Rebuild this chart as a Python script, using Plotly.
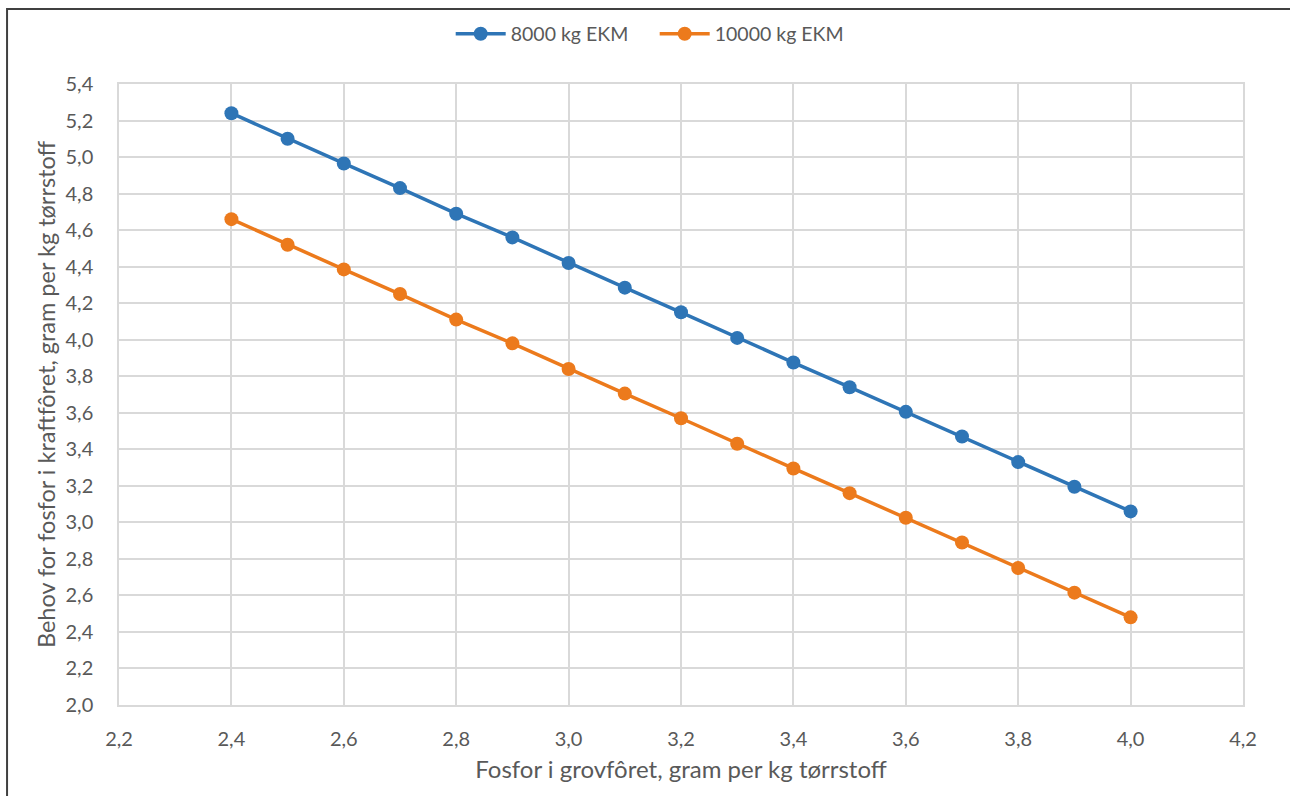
import plotly.graph_objects as go

# Phosphorus in roughage (g/kg DM) and phosphorus requirement in concentrate (g/kg DM)
fosfor_grovfor = [2.4, 2.5, 2.6, 2.7, 2.8, 2.9, 3.0, 3.1, 3.2, 3.3, 3.4, 3.5, 3.6, 3.7, 3.8, 3.9, 4.0]
behov_8000 = [5.24, 5.10, 4.965, 4.83, 4.69, 4.56, 4.42, 4.285, 4.15, 4.01, 3.875, 3.74, 3.605, 3.47, 3.33, 3.195, 3.06]
behov_10000 = [4.66, 4.52, 4.385, 4.25, 4.11, 3.98, 3.84, 3.705, 3.57, 3.43, 3.295, 3.16, 3.025, 2.89, 2.75, 2.615, 2.48]

serie_navn = ["8000 kg EKM", "10000 kg EKM"]
farger = ["#2E75B6", "#EC7A1C"]

FONT = "Lato, 'Open Sans', sans-serif"
TXT = "#595959"
GRID = "#D9D9D9"

fig = go.Figure()
for navn, verdier, farge in zip(serie_navn, [behov_8000, behov_10000], farger):
    fig.add_trace(go.Scatter(
        x=fosfor_grovfor, y=verdier, name=navn, mode="lines+markers",
        line=dict(color=farge, width=3.5),
        marker=dict(color=farge, size=14),
    ))

fig.update_layout(
    width=1290, height=796,
    margin=dict(l=119, r=47, t=84, b=91, autoexpand=False),
    paper_bgcolor="white", plot_bgcolor="white",
    separators=", ",
    font=dict(family=FONT, color=TXT, size=20),
    legend=dict(orientation="h", x=0.4766, xanchor="center", y=1.0805, yanchor="middle",
                font=dict(size=19.5, color=TXT), itemwidth=50, entrywidth=139,
                tracegroupgap=0, bgcolor="rgba(0,0,0,0)"),
    xaxis=dict(range=[2.2, 4.2], dtick=0.2, tick0=2.2, tickformat=".1f",
               showgrid=True, gridcolor=GRID, gridwidth=1.5,
               showline=True, linecolor=GRID, linewidth=1.5, mirror=True,
               zeroline=False, ticks="", ticklabelstandoff=15,
               tickfont=dict(size=20, color=TXT),
               title=dict(text="Fosfor i grovfôret, gram per kg tørrstoff",
                          font=dict(size=24, color=TXT), standoff=12)),
    yaxis=dict(range=[2.0, 5.4], dtick=0.2, tick0=2.0, tickformat=".1f",
               showgrid=True, gridcolor=GRID, gridwidth=1.5,
               showline=True, linecolor=GRID, linewidth=1.5, mirror=True,
               zeroline=False, ticks="", ticklabelstandoff=20,
               tickfont=dict(size=20, color=TXT),
               title=dict(text="Behov for fosfor i kraftfôret, gram per kg tørrstoff",
                          font=dict(size=23.5, color=TXT), standoff=3)),
)

# outer chart frame
fig.add_shape(type="rect", xref="paper", yref="paper",
              x0=-0.0996, x1=1.2, y0=-0.3, y1=1.1208,
              line=dict(color="#404040", width=2), layer="below")

fig.write_html("out.html")
